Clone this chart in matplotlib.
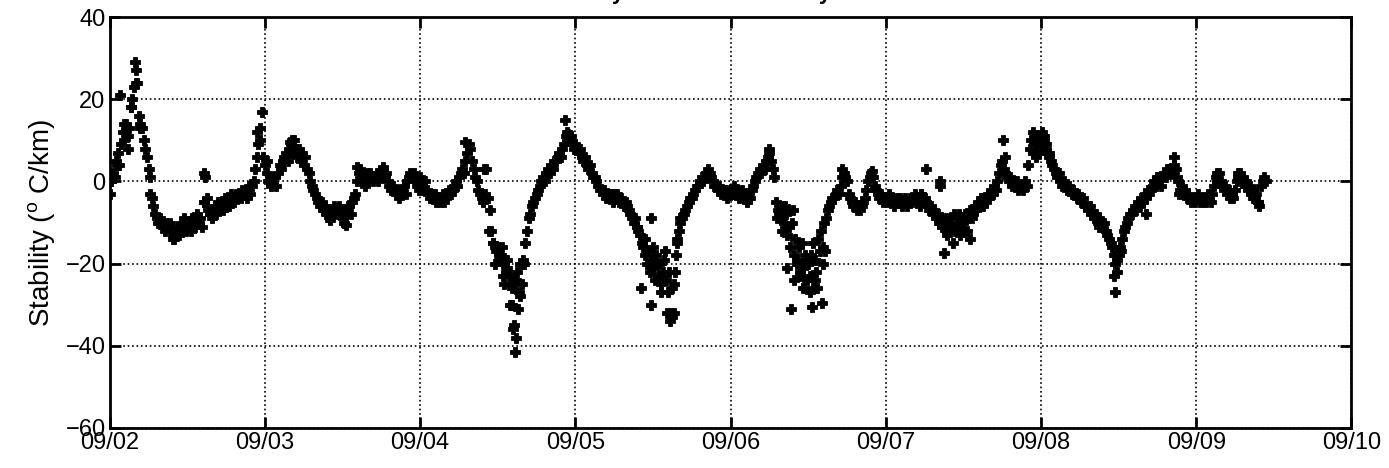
import numpy as np
import pandas as pd
import matplotlib
matplotlib.use('Agg')
import matplotlib.pyplot as plt
import matplotlib.dates as mdates

plt.rcParams['font.family'] = ['Liberation Sans', 'DejaVu Sans']

# 15-minute stability values (deg C/km), one list per day starting 00:00
sep02 = [-3, 0, 2, 1, 5, 7, 4, 9, 12, 10, 14, 11, 13, 18, 20, 23,
         27, 24, 16, 14, 13, 10, 8, 6, 3, 1, -4, -6, -8, -9, -10, -9,
         -10, -11, -12, -10, -11, -10, -12, -13, -14, -12, -11, -13, -10, -11, -9, -12,
         -11, -10, -12, -9, -9, -11, -8, -10, -9, -11, -5, 1, -4, -7, -8, -9,
         -7, -6, -8, -5, -6, -5, -7, -4, -5, -4, -6, -3, -4, -5, -3, -4,
         -3, -4, -2, -3, -2, -4, -1, -3, -1, 0, 3, 6, 9, 13, 17, 6]
sep03 = [4, 2, 0, 1, -1, 0, 1, -1, 2, 4, 3, 5, 6, 7, 5, 8,
         9, 7, 10, 8, 6, 8, 5, 7, 4, 6, 3, 2, 0, -1, -2, -3,
         -4, -5, -6, -5, -7, -6, -8, -7, -9, -7, -8, -6, -7, -8, -6, -8,
         -9, -10, -8, -7, -6, -8, -5, -4, -3, 0, 2, 3, 0, 1, -1, 2,
         0, 2, 1, 0, 1, 2, 0, 1, 2, 3, 1, 2, 0, -1, -2, -1,
         -2, -3, -2, -4, -3, -2, -1, -3, 0, 1, 2, 1, 2, 0, -1, -2]
sep04 = [1, -1, -2, 0, -2, -3, -4, -3, -4, -3, -5, -4, -5, -4, -3, -5,
         -4, -3, -2, -3, -2, -1, 0, -1, 1, 2, 3, 2, 5, 7, 9, 8,
         5, 3, 1, 0, -2, -3, -4, -5, -3, 3, -4, -7, -12, -15, -16, -17,
         -16, -19, -18, -20, -19, -22, -21, -23, -25, -30, -35, -24, -22, -27, -20, -25,
         -20, -15, -12, -9, -8, -6, -5, -4, -3, -2, -1, 0, 1, 0, 2, 3,
         2, 4, 3, 5, 5, 6, 7, 6, 8, 9, 11, 12, 10, 11, 9, 8]
sep05 = [9, 8, 7, 8, 6, 5, 6, 4, 3, 4, 2, 1, 1, 0, -1, -2,
         -2, -3, -2, -4, -3, -4, -3, -5, -3, -4, -3, -5, -4, -5, -6, -5,
         -6, -7, -8, -9, -10, -9, -11, -12, -13, -15, -16, -18, -20, -17, -22, -19,
         -21, -24, -18, -23, -20, -25, -22, -19, -24, -27, -22, -32, -33, -25, -18, -15,
         -12, -10, -9, -8, -7, -6, -5, -4, -4, -3, -2, -1, -1, 0, 1, 0,
         1, 2, 3, 2, 1, 0, -1, -1, -2, -1, -3, -2, -3, -2, -4, -3]
sep06 = [-2, -3, -1, -3, -2, -4, -3, -2, -4, -3, -5, -3, -4, -2, -1, 0,
         1, 2, 3, 2, 4, 3, 5, 6, 7, 5, 3, 1, -5, -7, -8, -6,
         -9, -10, -8, -13, -11, -16, -10, -18, -14, -19, -16, -22, -15, -21, -18, -24,
         -20, -23, -18, -26, -19, -22, -14, -17, -12, -16, -10, -9, -7, -6, -5, -4,
         -4, -3, -2, -3, -1, 1, 2, 1, 0, -3, -4, -5, -6, -5, -7, -6,
         -7, -6, -5, -4, -2, 0, 1, 2, 1, -1, -2, -3, -4, -3, -5, -4]
sep07 = [-4, -5, -3, -5, -4, -6, -5, -4, -5, -4, -6, -5, -4, -6, -5, -4,
         -5, -4, -3, -5, -4, -6, -3, -5, -4, -5, -6, -7, -6, -8, -7, -9,
         -8, -10, -9, -11, -10, -9, -12, -11, -9, -11, -8, -12, -10, -8, -11, -9,
         -10, -8, -12, -9, -7, -9, -8, -6, -7, -5, -6, -4, -6, -4, -5, -3,
         -4, -2, -3, -1, -2, 0, 2, 4, 5, 3, 2, 1, 0, 1, -1, 0,
         -1, 0, -2, -1, -1, -2, 0, -1, 4, 8, 10, 7, 9, 6, 8, 7]
sep08 = [11, 9, 10, 8, 7, 6, 5, 4, 3, 2, 1, 2, 0, -1, 0, -1,
         -2, -1, -2, -3, -2, -3, -4, -3, -4, -5, -4, -6, -6, -7, -6, -8,
         -8, -9, -8, -10, -9, -10, -11, -10, -12, -13, -14, -15, -16, -18, -20, -19,
         -18, -16, -14, -12, -11, -10, -9, -8, -8, -7, -6, -7, -5, -6, -4, -5,
         -3, -4, -2, -3, -2, -1, 0, -1, 0, 1, -1, 1, 2, 1, 3, 2,
         3, 2, 4, 3, 1, 0, -2, -1, -3, -2, -4, -3, -4, -5, -4, -5]
sep09 = [-4, -3, -5, -4, -5, -4, -5, -3, -4, -5, -3, -1, 1, 0, 2, 0,
         -1, -2, -1, -3, -2, -4, -3, -4, -2, 0, 1, 2, 0, 1, -1, 0,
         -2, -1, -3, -2, -4, -3, -5, -6, -1, 0, 1, 0]

# scattered extra readings: (hour of day, value)
extra02 = [(1.6, 21), (3.9, 29), (4.1, 24), (3.3, 18), (4.7, 13), (2.2, 14), (6.2, -3),
           (9.8, -14), (14.6, 2), (14.5, -5), (22.7, 12), (23.2, 10), (0.2, 0), (1.2, 4),
           (2.8, 8)]
extra03 = [(10.0, -9.5), (12.5, -10.5), (4.2, 10), (3.8, 9.5), (14.3, 3.5), (18.3, 3.5),
           (0.3, 5), (9.2, -7), (12.8, -6)]
extra04 = [(9.9, 3), (7.0, 9.5), (11.2, -15), (12.2, -18), (12.8, -23), (13.4, -19),
           (13.9, -30), (14.2, -26), (14.4, -36), (14.6, -41.5), (14.8, -38), (15.1, -31),
           (15.4, -28), (15.7, -20), (13.0, -25), (22.4, 15), (22.8, 11.5), (10.7, -12),
           (11.6, -20), (12.6, -16), (15.9, -19)]
extra05 = [(11.7, -9), (10.2, -26), (11.7, -30), (14.1, -32), (14.6, -34), (15.2, -32),
           (12.5, -20), (13.2, -27), (13.8, -17), (15.4, -22), (10.8, -14), (12.0, -16),
           (14.9, -26), (15.7, -14), (16.1, -9), (9.6, -11)]
extra06 = [(7.2, -9), (8.0, -12), (8.7, -21), (9.3, -31), (9.8, -24), (10.3, -20),
           (10.8, -23), (11.2, -26), (11.6, -19), (12.2, -27), (12.6, -30.5), (13.0, -24),
           (13.4, -26), (14.1, -29.5), (14.3, -20), (14.6, -17), (12.8, -15), (8.4, -6),
           (9.6, -7), (17.2, 3), (21.8, 2.5), (6.0, 8)]
extra07 = [(6.2, 3), (8.4, 0), (8.4, -1), (9.0, -17.5), (10.4, -15), (13.0, -14),
           (9.5, -13), (11.5, -13), (18.1, 10), (18.5, 6), (22.8, 12), (23.3, 11),
           (23.8, 9), (5.5, -3), (12.0, -12)]
extra08 = [(0.2, 12), (0.4, 11), (0.8, 9), (11.3, -23), (11.4, -27), (11.8, -22),
           (16.2, -8), (18.0, 1), (20.6, 6), (20.8, 3), (21.3, -3), (1.2, 7), (12.3, -17),
           (9.0, -11)]
extra09 = [(3.2, 2), (6.5, 2), (9.5, -5), (8.8, -4)]

day_names = ['2008-09-02', '2008-09-03', '2008-09-04', '2008-09-05',
             '2008-09-06', '2008-09-07', '2008-09-08', '2008-09-09']
day_vals = [sep02, sep03, sep04, sep05, sep06, sep07, sep08, sep09]
day_extra = [extra02, extra03, extra04, extra05, extra06, extra07, extra08, extra09]

times, vals = [], []
for d, v, ex in zip(day_names, day_vals, day_extra):
    start = pd.Timestamp(d)
    for i, y in enumerate(v):
        times.append(start + pd.Timedelta(minutes=15 * i))
        vals.append(y)
    for h, y in ex:
        times.append(start + pd.Timedelta(hours=h))
        vals.append(y)

fig = plt.figure(figsize=(13.89, 4.68), dpi=100)
ax = fig.add_axes([0.079, 0.0855, 0.894, 0.878])

ax.plot(times, vals, linestyle='none', marker='P', markersize=6.5, mew=0.6,
        color='k')

ax.set_xlim(pd.Timestamp('2008-09-02'), pd.Timestamp('2008-09-10'))
ax.set_ylim(-60, 40)
ax.set_yticks([-60, -40, -20, 0, 20, 40])
ax.xaxis.set_major_locator(mdates.DayLocator())
ax.xaxis.set_major_formatter(mdates.DateFormatter('%m/%d'))

ax.grid(True, linestyle=':', color='k', linewidth=1.2)
ax.tick_params(direction='in', length=8, width=2, top=True, right=True,
               labelsize=17, pad=3)
for s in ax.spines.values():
    s.set_linewidth(2)

ax.set_ylabel(r'Stability ($\mathregular{^o}$ C/km)', fontsize=20, labelpad=6)

fig.text(0.545, 1.003, 'Stability Over Time at Every Sensor Level', ha='center',
         va='baseline', fontsize=16, fontweight='bold')

fig.savefig('out.png', dpi=100)
